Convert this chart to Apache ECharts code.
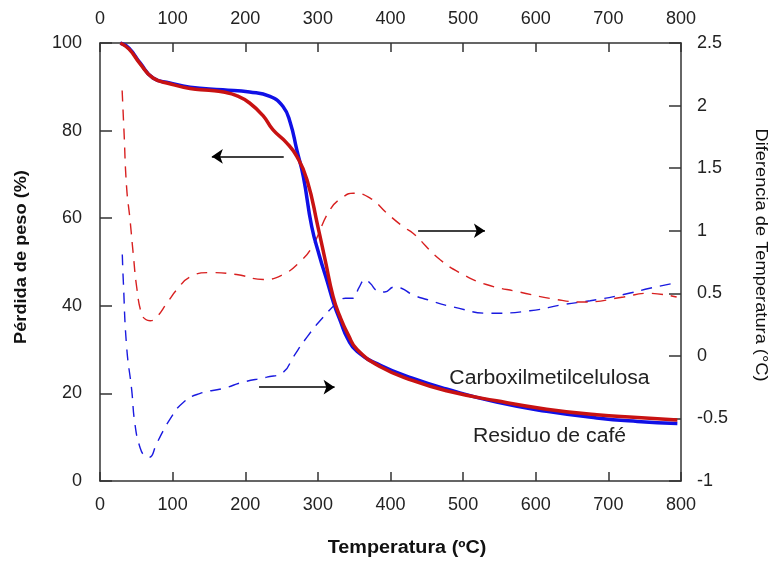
<!DOCTYPE html>
<html>
<head>
<meta charset="utf-8">
<script src="https://cdn.jsdelivr.net/npm/echarts@6/dist/echarts.min.js"></script>
<style>html,body{margin:0;padding:0;background:#fff;}#chart{width:775px;height:561px;}</style>
</head>
<body>
<div id="chart"></div>
<script>
// ---- Data ----
const xTicks = [0, 100, 200, 300, 400, 500, 600, 700, 800];
const leftTicks = [0, 20, 40, 60, 80, 100];
const rightTicks = [-1, -0.5, 0, 0.5, 1, 1.5, 2, 2.5];

// TG curve, blue (weight %)
const tgBlueT = [28,40,55,73,96,124,169,206,234,252,262,271,280,291.5,302,313,322,331,341,354,386,431,477,546,615,684,740,795];
const tgBlueW = [100,98.8,95.5,92,90.9,89.9,89.3,88.8,87.8,85.5,81.8,75.6,69.5,58.1,51.5,45.5,40.5,36.5,32.5,29.6,26.4,23.4,21.0,18.0,15.9,14.4,13.6,13.1];

// TG curve, red (weight %)
const tgRedT = [28,40,55,73,96,124,150,170,188,206,225,238,257,271,285,300,310,321,330.5,342,354,386,431,477,546,615,684,740,795];
const tgRedW = [100,98.6,95.3,92,90.7,89.6,89.2,88.8,88.0,86.3,83.3,80.2,77.2,74.1,68.8,58.1,50.5,42.1,37.5,33.3,30,26.1,22.9,20.6,18.3,16.4,15.1,14.5,13.9];

// DTA curve, red dashed (°C)
const dtaRedT = [30.5,33,36.6,41.3,46,50.5,57,63,69,78,92,106,124,151,188,225,252,275,292,317,335,349,372,395,418,431,468,500,532,578,629,666,721,753,794];
const dtaRedD = [2.12,1.8,1.35,1.09,0.8,0.55,0.34,0.29,0.28,0.31,0.42,0.53,0.63,0.665,0.65,0.61,0.65,0.75,0.87,1.17,1.27,1.30,1.26,1.14,1.03,0.98,0.77,0.65,0.57,0.51,0.45,0.43,0.47,0.50,0.47];

// DTA curve, blue dashed (°C)
const dtaBlueT = [30.7,32,36.7,43.6,48,55,62,68,78,96,115,138,170,197,229.5,252.5,266,285,307.5,326,338,348,357,365,372,382,392,405,415,430,450,487,537,592,638,675,721,757,794];
const dtaBlueD = [0.81,0.61,0.07,-0.27,-0.54,-0.73,-0.80,-0.81,-0.70,-0.51,-0.37,-0.30,-0.26,-0.21,-0.17,-0.13,-0.01,0.15,0.31,0.42,0.46,0.46,0.55,0.61,0.58,0.52,0.51,0.55,0.54,0.49,0.45,0.39,0.34,0.36,0.41,0.44,0.49,0.54,0.585];

// Arrow annotations (data coordinates)
const arrowTG = [[253, 74.1], [154, 74.1]];          // left axis
const arrowDtaLow = [[219, -0.25], [323, -0.25]];    // right axis
const arrowDtaHigh = [[438, 1.0], [530, 1.0]];       // right axis

const labelCMC = 'Carboxilmetilcelulosa';
const labelCafe = 'Residuo de café';

// ---- Chart ----
const zip = (a, b) => a.map((v, i) => [v, b[i]]);
const FONT = '"Liberation Sans", Arial, sans-serif';
const axisLineStyle = { color: '#333', width: 1.5 };
const labelStyle = { color: '#222', fontSize: 18, fontFamily: FONT };

function arrowLine(pts) {
  return {
    silent: true,
    symbol: ['none', 'arrow'],
    symbolSize: 11,
    label: { show: false },
    emphasis: { disabled: true },
    lineStyle: { color: '#000', width: 1.5, type: 'solid' },
    itemStyle: { color: '#000' },
    data: [[{ coord: pts[0] }, { coord: pts[1] }]],
    animation: false
  };
}

function xAx(pos) {
  return {
    type: 'value', position: pos, min: xTicks[0], max: xTicks[xTicks.length - 1], interval: 100,
    axisLine: { show: true, onZero: false, lineStyle: axisLineStyle },
    axisTick: { show: true, inside: true, length: 9, lineStyle: axisLineStyle },
    axisLabel: Object.assign({ margin: 15 }, labelStyle),
    splitLine: { show: false }
  };
}

const chart = echarts.init(document.getElementById('chart'), null, { renderer: 'canvas' });
chart.setOption({
  animation: false,
  backgroundColor: '#fff',
  grid: { left: 100, right: 94, top: 43, bottom: 80, containLabel: false },
  xAxis: [xAx('bottom'), xAx('top')],
  yAxis: [
    {
      type: 'value', position: 'left', min: leftTicks[0], max: leftTicks[leftTicks.length - 1], interval: 20,
      axisLine: { show: true, onZero: false, lineStyle: axisLineStyle },
      axisTick: { show: true, inside: true, length: 12, lineStyle: axisLineStyle },
      axisLabel: Object.assign({ margin: 18 }, labelStyle),
      splitLine: { show: false }
    },
    {
      type: 'value', position: 'right', min: rightTicks[0], max: rightTicks[rightTicks.length - 1], interval: 0.5,
      axisLine: { show: true, onZero: false, lineStyle: axisLineStyle },
      axisTick: { show: true, inside: true, length: 12, lineStyle: axisLineStyle },
      axisLabel: Object.assign({ margin: 16 }, labelStyle),
      splitLine: { show: false }
    }
  ],
  series: [
    {
      name: 'DTA azul', type: 'line', xAxisIndex: 0, yAxisIndex: 1, data: zip(dtaBlueT, dtaBlueD),
      showSymbol: false, smooth: 0.5, silent: true, z: 2,
      lineStyle: { color: '#1a1ae0', width: 1.4, type: [11, 8] },
      markLine: arrowLine(arrowDtaLow)
    },
    {
      name: 'DTA rojo', type: 'line', xAxisIndex: 0, yAxisIndex: 1, data: zip(dtaRedT, dtaRedD),
      showSymbol: false, smooth: 0.5, silent: true, z: 2,
      lineStyle: { color: '#d82020', width: 1.4, type: [11, 8] },
      markLine: arrowLine(arrowDtaHigh)
    },
    {
      name: labelCafe, type: 'line', xAxisIndex: 0, yAxisIndex: 0, data: zip(tgBlueT, tgBlueW),
      showSymbol: false, smooth: 0.5, silent: true, z: 3,
      lineStyle: { color: '#1010e6', width: 3.5 },
      markLine: arrowLine(arrowTG)
    },
    {
      name: labelCMC, type: 'line', xAxisIndex: 0, yAxisIndex: 0, data: zip(tgRedT, tgRedW),
      showSymbol: false, smooth: 0.5, silent: true, z: 4,
      lineStyle: { color: '#c81212', width: 3.5 }
    }
  ],
  graphic: [
    { type: 'text', x: 407, y: 548, scaleX: 1.1, silent: true,
      style: { text: 'Temperatura (ºC)', font: 'bold 18px ' + FONT, fill: '#111', textAlign: 'center', textVerticalAlign: 'middle' } },
    { type: 'text', x: 21, y: 257, rotation: Math.PI / 2, scaleX: 1.07, silent: true,
      style: { text: 'Pérdida de peso (%)', font: 'bold 17px ' + FONT, fill: '#111', textAlign: 'center', textVerticalAlign: 'middle' } },
    { type: 'text', x: 760.5, y: 255, rotation: -Math.PI / 2, scaleX: 1.075, silent: true,
      style: { text: 'Diferencia de Temperatura (°C)', font: '17px ' + FONT, fill: '#111', textAlign: 'center', textVerticalAlign: 'middle' } },
    { type: 'text', x: 549.5, y: 378, scaleX: 1.06, silent: true,
      style: { text: labelCMC, font: '20px ' + FONT, fill: '#222', textAlign: 'center', textVerticalAlign: 'middle' } },
    { type: 'text', x: 549.5, y: 436, scaleX: 1.06, silent: true,
      style: { text: labelCafe, font: '20px ' + FONT, fill: '#222', textAlign: 'center', textVerticalAlign: 'middle' } }
  ]
});
</script>
</body>
</html>
